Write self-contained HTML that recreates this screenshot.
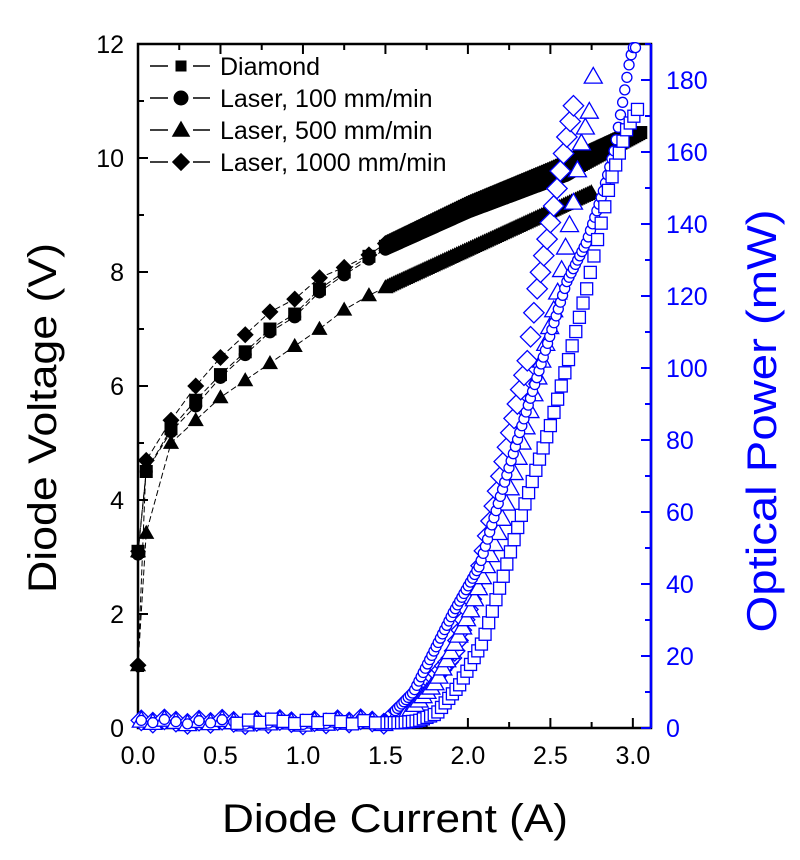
<!DOCTYPE html>
<html><head><meta charset="utf-8"><style>
body{margin:0;background:#fff;}
svg{display:block;font-family:"Liberation Sans",Arial,sans-serif;}
</style></head><body>
<svg id="s" width="800" height="860" xmlns="http://www.w3.org/2000/svg"></svg>
<script>
const L=138,R=651,T=44,B=728;
const X=i=>L+i*(R-L)/3.11, YV=v=>B-v*(B-T)/12, YP=p=>B-p*(B-T)/190;
let o='';
function interp(pts,x){for(let k=0;k<pts.length-1;k++){if(x>=pts[k][0]&&x<=pts[k+1][0]){const t=(x-pts[k][0])/(pts[k+1][0]-pts[k][0]);return pts[k][1]+t*(pts[k+1][1]-pts[k][1]);}}return pts[pts.length-1][1];}
function mk(type,x,y,s,fill,stroke,sw){
 if(type=='sq')return `<rect x="${x-s/2}" y="${y-s/2}" width="${s}" height="${s}" fill="${fill}" stroke="${stroke}" stroke-width="${sw}"/>`;
 if(type=='ci')return `<circle cx="${x}" cy="${y}" r="${s/2}" fill="${fill}" stroke="${stroke}" stroke-width="${sw}"/>`;
 if(type=='tr')return `<polygon points="${x},${y-s*0.6} ${x+s*0.6},${y+s*0.45} ${x-s*0.6},${y+s*0.45}" fill="${fill}" stroke="${stroke}" stroke-width="${sw}"/>`;
 return `<polygon points="${x},${y-s*0.6} ${x+s*0.6},${y} ${x},${y+s*0.6} ${x-s*0.6},${y}" fill="${fill}" stroke="${stroke}" stroke-width="${sw}"/>`;
}
o+=`<rect x="${L}" y="${T}" width="${R-L}" height="${B-T}" fill="none" stroke="#000" stroke-width="2.5"/>`;
for(let i=0;i<=6;i++){const x=X(i*0.5);o+=`<line x1="${x}" y1="${B}" x2="${x}" y2="${B-10}" stroke="#000" stroke-width="2"/><line x1="${x}" y1="${T}" x2="${x}" y2="${T+10}" stroke="#000" stroke-width="2"/>`;
 o+=`<text x="${x}" y="${B+36}" font-size="25" text-anchor="middle">${(i*0.5).toFixed(1)}</text>`;
 const xm=X(i*0.5+0.25);if(xm<R){o+=`<line x1="${xm}" y1="${B}" x2="${xm}" y2="${B-6}" stroke="#000" stroke-width="2"/><line x1="${xm}" y1="${T}" x2="${xm}" y2="${T+6}" stroke="#000" stroke-width="2"/>`;}}
for(let v=0;v<=12;v++){const y=YV(v);const big=v%2==0;o+=`<line x1="${L}" y1="${y}" x2="${L+(big?10:6)}" y2="${y}" stroke="#000" stroke-width="2"/>`;
 if(big)o+=`<text x="${L-14}" y="${y+9}" font-size="25" text-anchor="end">${v}</text>`;}
for(let p=0;p<=190;p+=10){const y=YP(p);const big=p%20==0;o+=`<line x1="${R}" y1="${y}" x2="${R-(big?10:6)}" y2="${y}" stroke="#00f" stroke-width="2"/>`;
 if(big)o+=`<text x="${R+15}" y="${y+9}" font-size="25" fill="#00f">${p}</text>`;}
const V={
 sq:[[0,3.1],[0.05,4.5],[0.2,5.25],[0.35,5.75],[0.5,6.2],[0.65,6.6],[0.8,7.0],[1.0,7.35],[1.1,7.7],[1.3,8.1],[1.5,8.45],[2.0,9.1],[2.6,9.75],[3.05,10.45]],
 ci:[[0,3.05],[0.05,4.5],[0.2,5.2],[0.35,5.65],[0.5,6.15],[0.65,6.55],[0.8,6.95],[1.0,7.3],[1.1,7.65],[1.3,8.05],[1.5,8.4],[2.0,9.05],[2.6,9.7],[3.0,10.4]],
 tr:[[0,1.1],[0.07,4.35],[0.2,5.0],[0.35,5.4],[0.5,5.8],[0.7,6.2],[0.9,6.6],[1.1,7.0],[1.3,7.45],[1.55,7.8],[2.0,8.4],[2.6,9.2],[2.75,9.4]],
 di:[[0,1.1],[0.03,4.6],[0.2,5.4],[0.35,6.0],[0.5,6.5],[0.65,6.9],[0.8,7.3],[1.0,7.6],[1.1,7.9],[1.35,8.2],[1.5,8.5],[2.0,9.2],[2.5,9.8],[2.95,10.4]]};
for(const k of ['tr','ci','sq','di']){
 const pts=V[k];let xs=[0];
 for(let i=0.05;i<1.5;i+=0.15)xs.push(+i.toFixed(3));
 for(let i=1.5;i<=pts[pts.length-1][0]+1e-6;i+=0.012)xs.push(i);
 let path='';xs.forEach((x,j)=>{path+=(j?'L':'M')+X(x).toFixed(1)+','+YV(interp(pts,x)).toFixed(1);});
 o+=`<path d="${path}" fill="none" stroke="#000" stroke-width="1" stroke-dasharray="6,3"/>`;
 if(k=='tr'||k=='di'){o+=mk(k,X(0),YV(3.1),12,'#000','#000',1);}
 xs.forEach(x=>{o+=mk(k,X(x),YV(interp(pts,x)),k=='di'?13:12,'#000','#000',1);});
}
const P={
 tr:[[0,1],[1.5,2],[1.65,5],[1.81,13],[2.01,32],[2.19,55],[2.36,85],[2.54,120],[2.64,146],[2.68,161],[2.74,172],[2.78,190]],
 ci:[[0,1],[1.5,2],[1.67,10],[1.91,32],[2.07,45],[2.3,80],[2.6,124],[2.72,135],[2.82,149],[2.89,161],[2.98,185],[3.02,193]],
 di:[[0,1],[1.5,2],[1.71,9],[1.91,20],[2.07,43],[2.21,72],[2.36,102],[2.42,122],[2.52,145],[2.59,162],[2.65,175]],
 sq:[[0,1],[1.6,1.5],[1.7,2],[1.81,4],[1.95,12],[2.09,24],[2.2,40],[2.33,60],[2.5,84],[2.62,104],[2.72,122],[2.86,151],[2.96,166],[3.03,172]]};
const step={tr:0.024,ci:0.013,di:0.02,sq:0.022};
const sz={tr:15,ci:10,di:17,sq:12};
for(const k of ['di','tr','ci','sq']){
 const pts=P[k];const end=pts[pts.length-1][0];
 for(let x=(k=='sq'?0.6:0.02);x<=end+1e-6;x+=(x<1.5?0.07:step[k])){
  let p=interp(pts,x);if(x<1.5)p=1+((x*37)%1)*1.5;
  if(p>189)p=189;
  o+=mk(k,X(x),YP(p),sz[k],'#fff','#00f',1.3);}
}
o+=`<line x1="${R}" y1="${T}" x2="${R}" y2="${B}" stroke="#00f" stroke-width="2.5"/>`;
const lg=[['sq','Diamond'],['ci','Laser, 100 mm/min'],['tr','Laser, 500 mm/min'],['di','Laser, 1000 mm/min']];
lg.forEach((e,i)=>{const y=66+i*32;o+=`<line x1="150" y1="${y}" x2="168" y2="${y}" stroke="#000" stroke-width="1.5"/><line x1="193" y1="${y}" x2="210" y2="${y}" stroke="#000" stroke-width="1.5"/>`;
 o+=mk(e[0],181,y,e[0]=='sq'?10:14,'#000','#000',1);
 o+=`<text x="220" y="${y+9}" font-size="25">${e[1]}</text>`;});
o+=`<text x="395" y="832" font-size="40" text-anchor="middle" textLength="346" lengthAdjust="spacingAndGlyphs">Diode Current (A)</text>`;
o+=`<text transform="translate(56,418) rotate(-90)" font-size="40" text-anchor="middle" textLength="350" lengthAdjust="spacingAndGlyphs">Diode Voltage (V)</text>`;
o+=`<text transform="translate(776,421) rotate(-90)" font-size="42" text-anchor="middle" fill="#00f" textLength="423" lengthAdjust="spacingAndGlyphs">Optical Power (mW)</text>`;
document.getElementById('s').innerHTML=o;
</script>
</body></html>
